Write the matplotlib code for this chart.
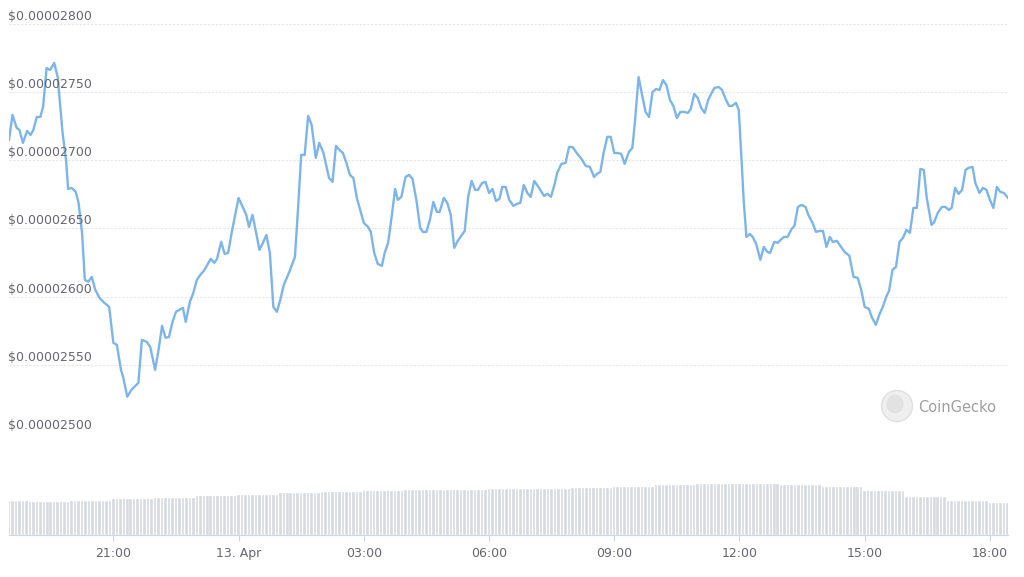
import pandas as pd
import matplotlib
matplotlib.use("Agg")
import matplotlib.pyplot as plt
import matplotlib.dates as mdates
from matplotlib.ticker import FuncFormatter
from matplotlib.patches import Ellipse
from matplotlib.transforms import offset_copy

# price samples, Apr 12 18:30 -> Apr 13 18:26 (price in units of 1e-8 USD)
times = [
    "18:30", "18:35", "18:41", "18:45", "18:50", "18:56", "19:01", "19:05", "19:10", "19:15",
    "19:19", "19:24", "19:29", "19:35", "19:40", "19:42", "19:47", "19:52", "19:55", "20:00",
    "20:06", "20:10", "20:15", "20:19", "20:24", "20:29", "20:34", "20:40", "20:47", "20:54",
    "21:00", "21:05", "21:11", "21:14", "21:20", "21:26", "21:36", "21:41", "21:48", "21:53",
    "22:00", "22:05", "22:10", "22:15", "22:20", "22:25", "22:30", "22:40", "22:44", "22:50",
    "22:55", "23:00", "23:05", "23:10", "23:15", "23:20", "23:25", "23:29", "23:35", "23:40",
    "23:45", "23:50", "00:00", "00:06", "00:11", "00:15", "00:20", "00:25", "00:30", "00:35",
    "00:40", "00:45", "00:50", "00:55", "01:00", "01:05", "01:13", "01:21", "01:26", "01:30",
    "01:35", "01:40", "01:45", "01:51", "01:56", "02:02", "02:10", "02:15", "02:20", "02:25",
    "02:30", "02:35", "02:40", "02:45", "02:50", "02:54", "03:00", "03:06", "03:10", "03:15",
    "03:20", "03:26", "03:30", "03:35", "03:40", "03:45", "03:49", "03:54", "04:00", "04:05",
    "04:10", "04:16", "04:21", "04:25", "04:30", "04:35", "04:40", "04:45", "04:49", "04:55",
    "05:00", "05:05", "05:10", "05:15", "05:20", "05:25", "05:30", "05:35", "05:40", "05:44",
    "05:50", "05:55", "06:00", "06:05", "06:10", "06:15", "06:19", "06:24", "06:29", "06:35",
    "06:40", "06:45", "06:50", "06:55", "07:00", "07:05", "07:11", "07:19", "07:24", "07:29",
    "07:34", "07:38", "07:44", "07:50", "07:55", "08:00", "08:06", "08:13", "08:19", "08:25",
    "08:31", "08:35", "08:40", "08:45", "08:50", "08:55", "09:00", "09:05", "09:10", "09:15",
    "09:21", "09:26", "09:30", "09:35", "09:40", "09:45", "09:50", "09:55", "10:00", "10:05",
    "10:10", "10:15", "10:20", "10:25", "10:30", "10:35", "10:40", "10:46", "10:50", "10:55",
    "11:00", "11:05", "11:10", "11:15", "11:20", "11:24", "11:30", "11:35", "11:40", "11:45",
    "11:49", "11:55", "11:59", "12:03", "12:06", "12:10", "12:15", "12:19", "12:24", "12:30",
    "12:35", "12:40", "12:44", "12:50", "12:55", "12:59", "13:04", "13:09", "13:15", "13:19",
    "13:24", "13:29", "13:35", "13:39", "13:45", "13:50", "13:55", "14:00", "14:05", "14:10",
    "14:14", "14:20", "14:26", "14:31", "14:38", "14:44", "14:50", "14:55", "15:00", "15:06",
    "15:10", "15:16", "15:21", "15:26", "15:31", "15:35", "15:40", "15:45", "15:50", "15:55",
    "16:00", "16:05", "16:10", "16:15", "16:20", "16:25", "16:29", "16:36", "16:40", "16:45",
    "16:51", "16:56", "17:01", "17:05", "17:10", "17:15", "17:20", "17:25", "17:29", "17:35",
    "17:39", "17:45", "17:50", "17:55", "18:00", "18:05", "18:10", "18:15", "18:20", "18:26",
]
prices = [
    2715.0, 2733.3, 2723.8, 2722.3, 2712.8, 2721.6, 2718.6, 2722.3, 2731.8, 2731.8,
    2739.2, 2767.7, 2766.3, 2771.4, 2761.1, 2749.4, 2720.1, 2700.3, 2679.0, 2679.8,
    2676.8, 2668.8, 2646.8, 2612.3, 2610.9, 2614.5, 2605.0, 2599.1, 2595.5, 2592.5,
    2566.1, 2564.7, 2546.3, 2541.2, 2526.6, 2531.7, 2536.8, 2568.3, 2566.9, 2563.2,
    2546.3, 2561.0, 2578.6, 2569.8, 2570.5, 2581.5, 2588.9, 2591.8, 2581.5, 2596.2,
    2602.8, 2612.3, 2616.0, 2618.9, 2623.3, 2627.7, 2624.8, 2627.7, 2640.2, 2631.4,
    2632.1, 2646.8, 2672.4, 2665.8, 2660.0, 2651.2, 2660.0, 2647.5, 2634.3, 2639.5,
    2645.3, 2632.1, 2592.5, 2588.9, 2597.7, 2608.7, 2618.2, 2629.2, 2668.8, 2704.0,
    2704.0, 2732.6, 2726.0, 2701.8, 2712.8, 2705.4, 2687.1, 2684.2, 2710.6, 2707.6,
    2705.4, 2698.1, 2689.3, 2687.1, 2672.4, 2665.1, 2654.1, 2651.2, 2647.5, 2632.1,
    2624.1, 2622.6, 2632.1, 2639.5, 2658.5, 2679.0, 2671.0, 2673.2, 2687.8, 2689.3,
    2686.4, 2669.5, 2650.4, 2647.5, 2647.5, 2656.3, 2669.5, 2662.2, 2662.2, 2672.4,
    2668.8, 2660.0, 2635.8, 2640.9, 2644.6, 2648.2, 2673.2, 2684.9, 2678.3, 2678.3,
    2683.4, 2684.2, 2676.1, 2679.0, 2670.2, 2671.7, 2680.5, 2680.5, 2671.0, 2666.6,
    2668.0, 2668.8, 2682.0, 2676.1, 2673.2, 2684.9, 2680.5, 2673.9, 2675.4, 2673.2,
    2682.0, 2690.8, 2697.4, 2698.1, 2709.8, 2709.8, 2705.4, 2701.0, 2695.9, 2695.2,
    2687.8, 2690.0, 2691.5, 2706.2, 2717.2, 2717.2, 2705.4, 2705.4, 2704.7, 2697.4,
    2706.2, 2709.1, 2729.6, 2761.1, 2748.0, 2735.5, 2731.8, 2750.1, 2752.3, 2751.6,
    2758.9, 2755.3, 2744.3, 2739.9, 2731.1, 2735.5, 2735.5, 2734.8, 2737.7, 2748.7,
    2745.8, 2738.4, 2734.8, 2744.3, 2749.4, 2753.1, 2753.8, 2751.6, 2745.0, 2739.9,
    2739.9, 2742.1, 2737.0, 2700.3, 2671.0, 2643.8, 2646.0, 2643.8, 2638.7, 2627.0,
    2636.5, 2632.9, 2632.1, 2640.2, 2639.5, 2641.6, 2643.8, 2643.8, 2649.7, 2651.9,
    2665.8, 2667.3, 2665.8, 2660.0, 2654.1, 2647.5, 2648.2, 2648.2, 2636.5, 2643.8,
    2640.2, 2640.9, 2636.5, 2632.9, 2629.9, 2614.5, 2613.8, 2605.0, 2592.5, 2591.1,
    2585.2, 2579.3, 2586.7, 2592.5, 2599.9, 2604.3, 2619.7, 2621.9, 2640.2, 2643.1,
    2649.0, 2646.8, 2665.1, 2665.1, 2693.7, 2693.0, 2673.2, 2652.6, 2654.8, 2661.4,
    2665.8, 2665.8, 2663.6, 2665.1, 2679.8, 2675.4, 2678.3, 2693.0, 2694.4, 2695.2,
    2683.4, 2676.1, 2679.8, 2678.3, 2671.0, 2665.1, 2680.5, 2676.8, 2676.1, 2672.4,
]

# 24h volume per hour, Apr 12 18:00 .. Apr 13 18:00 (arbitrary units)
volume_hours = list(range(18, 24)) + list(range(0, 19))
volume = [3.40, 3.35, 3.45, 3.63, 3.75, 3.90, 4.00, 4.20, 4.35, 4.40, 4.50, 4.55, 4.60,
          4.65, 4.73, 4.80, 5.00, 5.10, 5.13, 5.05, 4.80, 4.40, 3.85, 3.45, 3.23]

y_ticks = [2500, 2550, 2600, 2650, 2700, 2750, 2800]

# build timestamps, rolling over to Apr 13 after midnight
stamps = []
day = 12
prev = None
for t in times:
    h = int(t[:2])
    if prev is not None and h < prev:
        day = 13
    prev = h
    stamps.append(pd.Timestamp(f"2023-04-{day:02d} {t}"))
stamps = pd.DatetimeIndex(stamps)
price_usd = [p * 1e-8 for p in prices]

W, H = 1024, 577
fig = plt.figure(figsize=(W / 100, H / 100), dpi=100)
fig.patch.set_facecolor("white")

x0, x1 = 9 / W, 1008 / W
ax = fig.add_axes([x0, (H - 433) / H, x1 - x0, 409 / H])
axv = fig.add_axes([x0, (H - 535) / H, x1 - x0, 65 / H], sharex=ax)

line_color = "#7cb5ec"
text_color = "#666670"

ax.plot(stamps, price_usd, color=line_color, lw=1.7, solid_joinstyle="round", zorder=3)
ax.set_ylim(2500e-8, 2800e-8)
ax.set_xlim(stamps[0], stamps[-1])
for s in ax.spines.values():
    s.set_visible(False)
ax.set_yticks([])
ax.tick_params(axis="x", which="both", bottom=False, labelbottom=False)

lbl_tr = offset_copy(ax.get_yaxis_transform(), fig=fig, x=-1, y=1, units="dots")
for v in y_ticks:
    ax.axhline(v * 1e-8, color="#e6e6e6", lw=0.8, ls=(0, (2, 1.5)), zorder=1)
    ax.text(0, v * 1e-8, f"${v * 1e-8:.8f}", transform=lbl_tr, ha="left", va="bottom",
            fontsize=9, color=text_color, zorder=4)

# volume bars on a regular 5 minute grid
slots = pd.date_range(stamps[0], stamps[-1], freq="5min")
hour_vol = dict()
for i, h in enumerate(volume_hours):
    key = (12 if i < 6 else 13, h)
    hour_vol[key] = volume[i]
bar_vals = [hour_vol[(s.day, s.hour)] for s in slots]
axv.bar(slots, bar_vals, width=pd.Timedelta(minutes=3.6), color="#d6dadf", align="center",
        edgecolor="white", linewidth=0.25)
axv.set_ylim(0, 6.5)
axv.set_yticks([])
for k in ["top", "left", "right"]:
    axv.spines[k].set_visible(False)
axv.spines["bottom"].set_color("#ccd6eb")
axv.spines["bottom"].set_linewidth(0.8)
axv.set_facecolor("none")

ticks = pd.date_range("2023-04-12 21:00", "2023-04-13 18:00", freq="3h")
axv.set_xticks(ticks)


def fmt(x, pos):
    d = mdates.num2date(x)
    if d.hour == 0 and d.minute == 0:
        return d.strftime("%d. %b").lstrip("0")
    return d.strftime("%H:%M")


axv.xaxis.set_major_formatter(FuncFormatter(fmt))
axv.tick_params(axis="x", length=4.5, width=0.8, color="#ccd6eb", pad=4,
                labelsize=9, labelcolor=text_color)
ax.set_xlim(stamps[0], stamps[-1])

# watermark
fig.add_artist(Ellipse((897 / W, 1 - 406 / H), 31 / W, 31 / H, transform=fig.transFigure,
                       facecolor="#efefef", edgecolor="#e0e0e0", lw=1))
fig.add_artist(Ellipse((895 / W, 1 - 404 / H), 17 / W, 19 / H, transform=fig.transFigure,
                       facecolor="#e2e2e2", edgecolor="none"))
fig.text(918 / W, 1 - 407 / H, "CoinGecko", fontsize=10.5, color="#a0a0a0",
         ha="left", va="center")

fig.savefig("out.png", dpi=100, facecolor="white")
